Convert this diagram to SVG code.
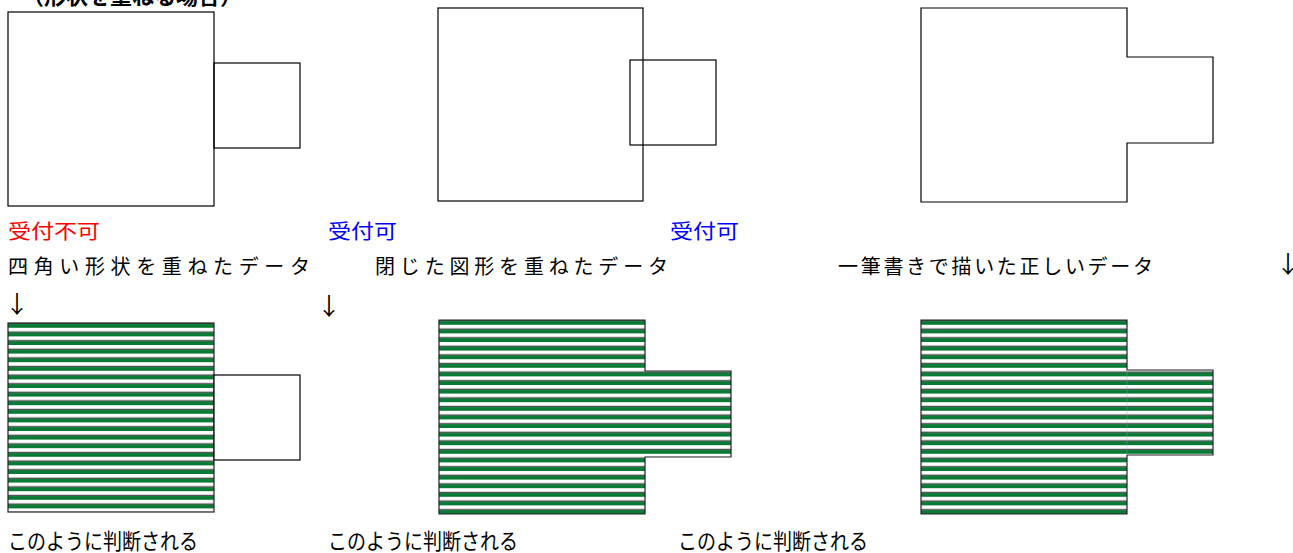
<svg xmlns="http://www.w3.org/2000/svg" width="1293" height="553" viewBox="0 0 1293 553">
<style>
.ln{fill:none;stroke:#000;stroke-width:1.2}
.wh{fill:#fff;stroke:#000;stroke-width:1.2}
.st{fill:url(#stripe);stroke:#222;stroke-width:1.2}
.t{font-family:"Noto Sans CJK JP","Noto Sans CJK SC",sans-serif;fill:#000}
.lbl{font-size:20px}
.arr{font-size:24px}
.red{fill:#ff0000}
.blue{fill:#0000ff}
.cap{font-size:22px}
</style>
<defs>
<pattern id="stripe" patternUnits="userSpaceOnUse" x="0" y="0" width="20" height="8.6">
<rect x="0" y="0" width="20" height="8.6" fill="#fff"/>
<rect x="0" y="0" width="20" height="1" fill="#555"/>
<rect x="0" y="1" width="20" height="3.8" fill="#087a35"/>
<rect x="0" y="8" width="20" height="0.6" fill="#bbb"/>
</pattern>
</defs>
<g id="title"><text class="t" x="22" y="4" font-size="22" font-weight="bold">（形状を重ねる場合）</text></g>
<g id="top1">
<rect class="ln" x="8" y="12" width="206" height="194"/>
<rect class="ln" x="214" y="63" width="86" height="85"/>
</g>
<g id="top2">
<rect class="ln" x="438" y="8" width="205" height="193"/>
<rect class="ln" x="630" y="60" width="86" height="85"/>
</g>
<g id="top3">
<path class="ln" d="M921 8 H1127 V57 H1213 V143 H1127 V202 H921 Z"/>
</g>
<g id="labels">
<text class="t lbl red" x="8" y="239" textLength="92" lengthAdjust="spacingAndGlyphs">受付不可</text>
<text class="t lbl blue" x="328" y="239" textLength="69" lengthAdjust="spacingAndGlyphs">受付可</text>
<text class="t lbl blue" x="670" y="239" textLength="69" lengthAdjust="spacingAndGlyphs">受付可</text>
<text class="t lbl" x="8" y="274" textLength="302" lengthAdjust="spacing">四角い形状を重ねたデータ</text>
<text class="t lbl" x="375" y="274" textLength="293" lengthAdjust="spacing">閉じた図形を重ねたデータ</text>
<text class="t lbl" x="838" y="274" textLength="315" lengthAdjust="spacing">一筆書きで描いた正しいデータ</text>
<text class="t arr" x="1276" y="273">↓</text>
<text class="t arr" x="5" y="313">↓</text>
<text class="t arr" x="317" y="315">↓</text>
</g>
<g id="bot1">
<g transform="translate(8,323)"><rect class="st" x="0" y="0" width="206" height="189"/></g>
<rect class="wh" x="214" y="375" width="86" height="85"/>
</g>
<g id="bot2">
<g transform="translate(439,320)"><path class="st" d="M0 0 H206 V51 H292 V137 H206 V194 H0 Z"/></g>
</g>
<g id="bot3">
<g transform="translate(921,320)"><path class="st" d="M0 0 H206 V50 H292 V135 H206 V194 H0 Z"/></g>
<line x1="1127" y1="370" x2="1127" y2="455" stroke="#9ac" stroke-width="0.6" opacity="0.6"/>
</g>
<g id="captions">
<text class="t cap" x="8" y="549" textLength="190" lengthAdjust="spacingAndGlyphs">このように判断される</text>
<text class="t cap" x="328" y="549" textLength="190" lengthAdjust="spacingAndGlyphs">このように判断される</text>
<text class="t cap" x="678" y="549" textLength="190" lengthAdjust="spacingAndGlyphs">このように判断される</text>
</g>
</svg>
